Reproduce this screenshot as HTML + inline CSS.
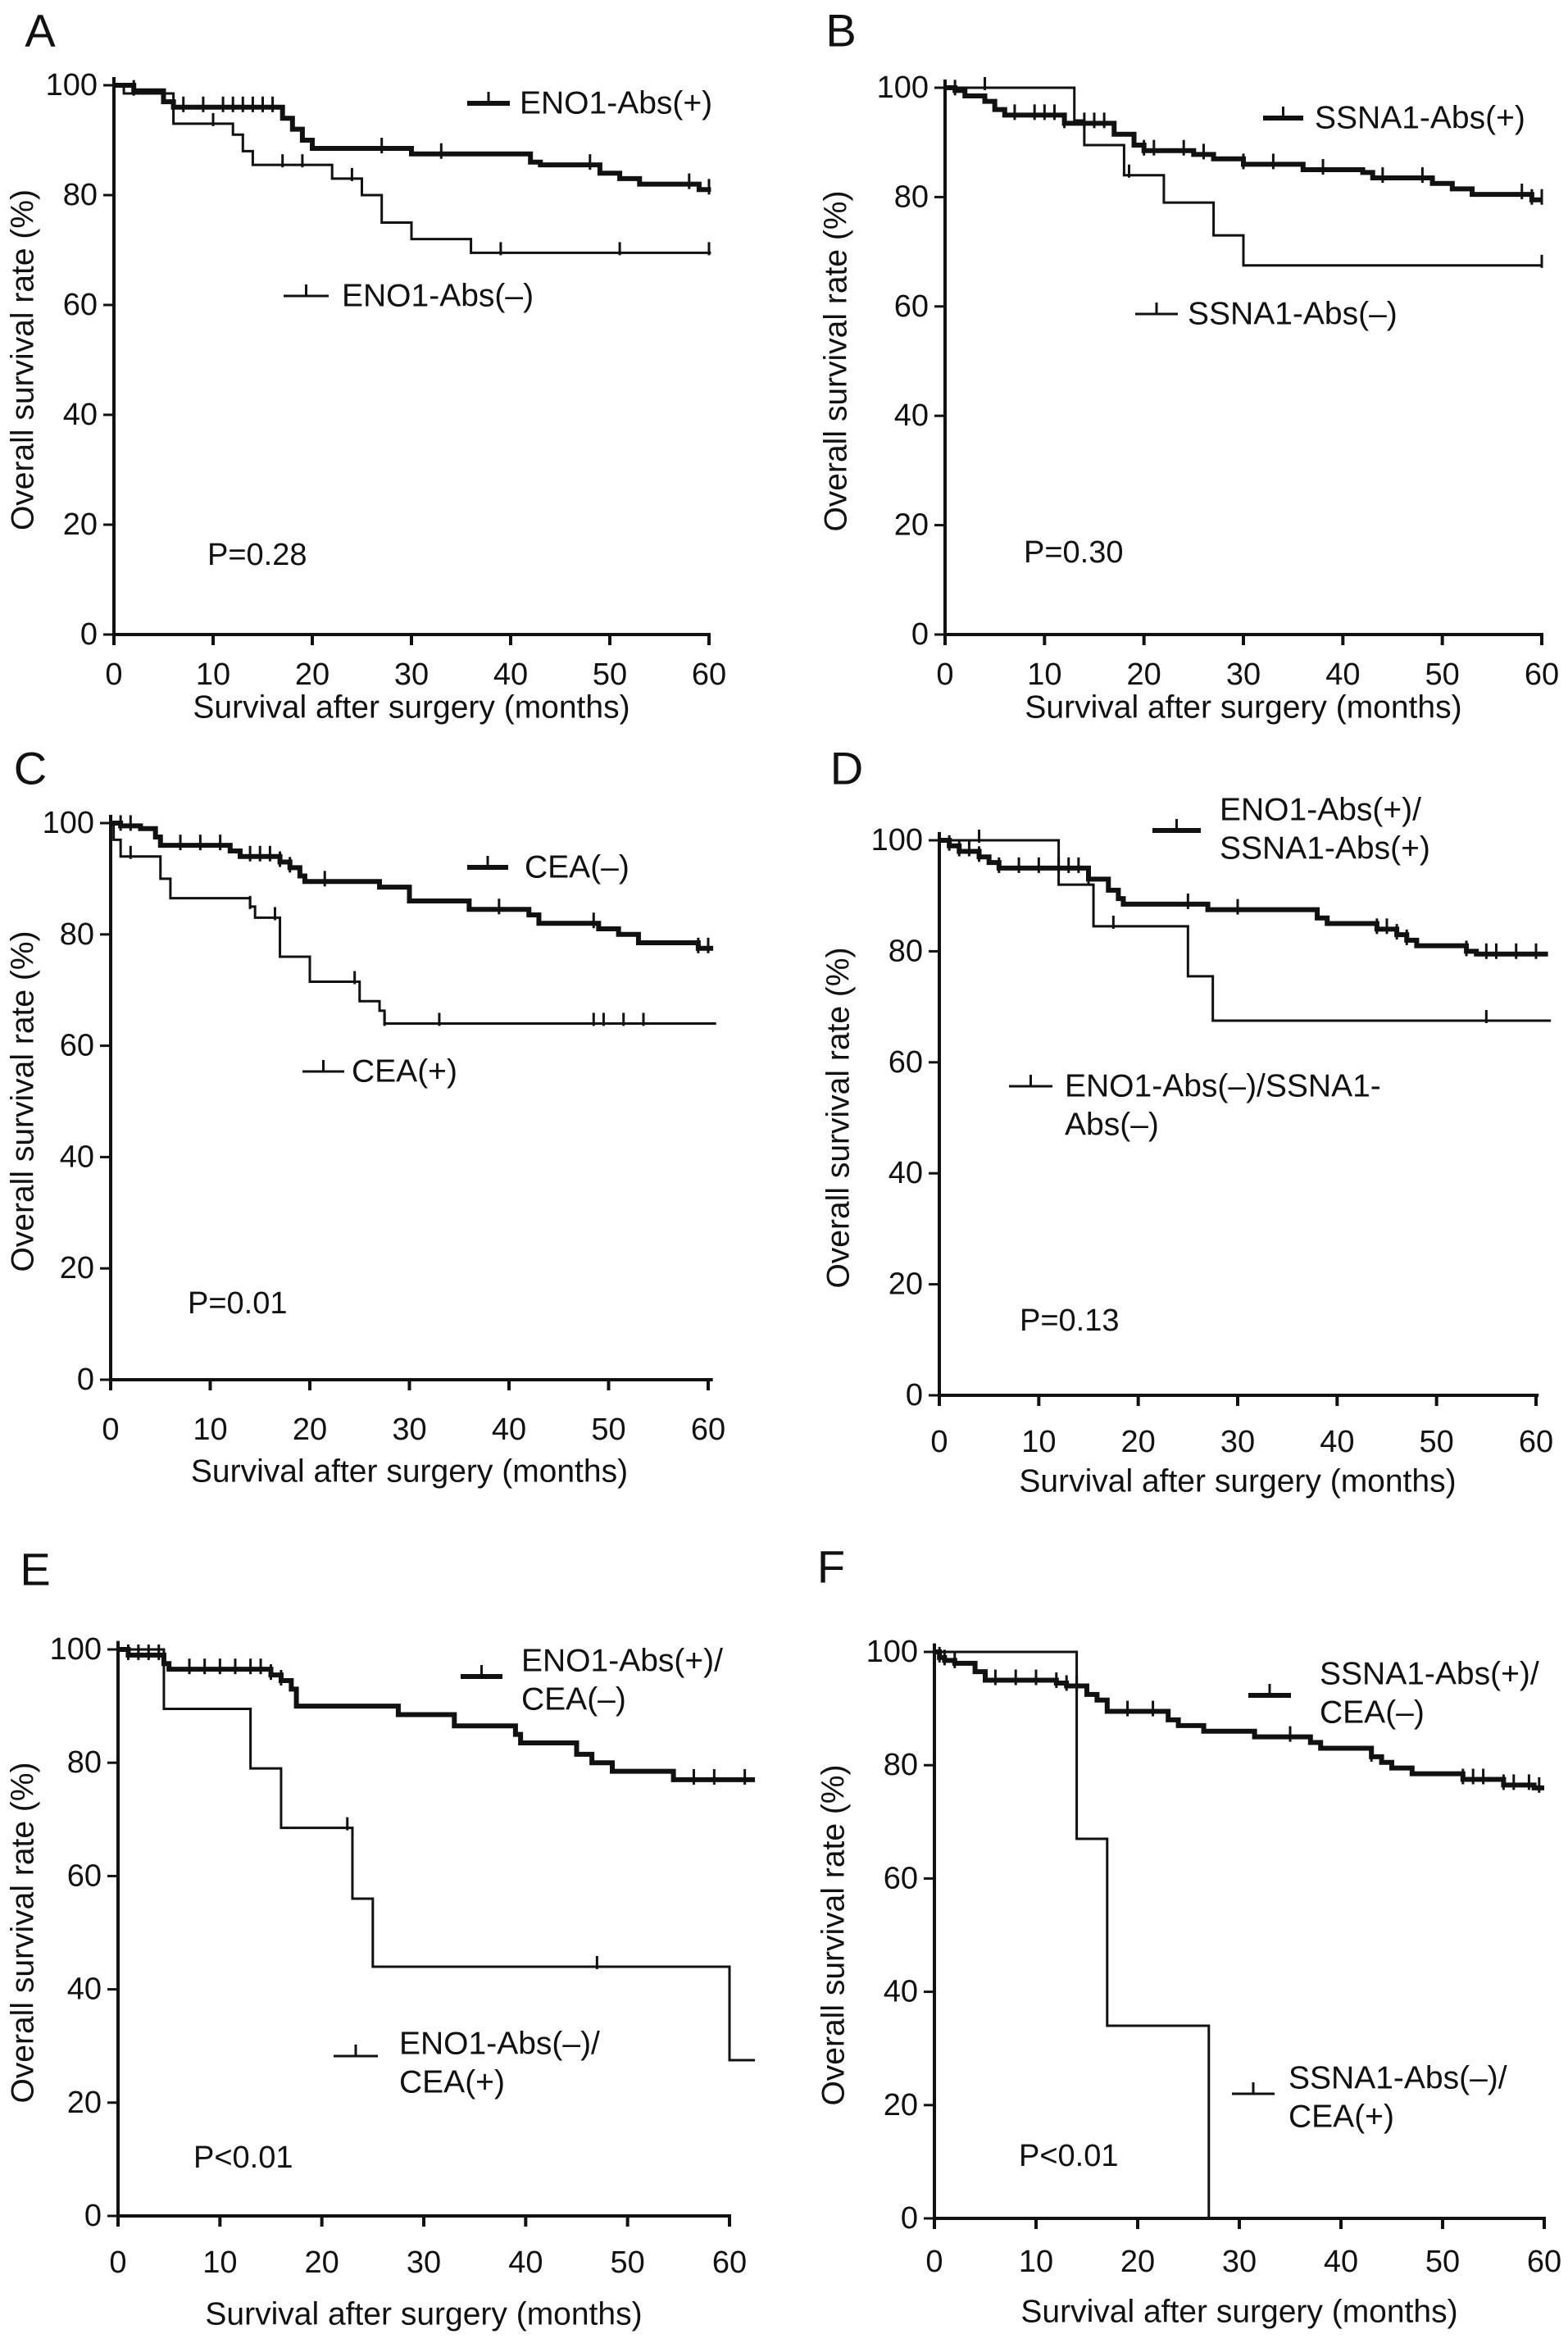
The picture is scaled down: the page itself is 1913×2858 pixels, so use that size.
<!DOCTYPE html>
<html><head><meta charset="utf-8">
<style>
html,body{margin:0;padding:0;background:#fff;}
svg{display:block;}
text{font-family:"Liberation Sans",Arial,sans-serif;fill:#111;}
</style></head>
<body>
<svg id="fig" width="1913" height="2858" viewBox="0 0 1913 2858" xmlns="http://www.w3.org/2000/svg"></svg>
<script>
// ---- Data (months, survival %) ----
const yTicks = [0,20,40,60,80,100];
const xTicks = [0,10,20,30,40,50,60];

// Panel A
const aPosT = [2,5,6,17,18,19,20,30,42,43,49,51,53,59];
const aPosS = [99,97,96,94,92,90,88.5,87.5,86,85.5,84,83,82,81];
const aPosC = [2,7,9,11,12,13,14,15,16,27,33,48,58,60];
const aNegT = [1,6,12,13,14,22,25,27,30,36];
const aNegS = [98.5,93,91,88,85.5,83,80,75,72,69.5];
const aNegC = [10,17,19,24,39,51,60];
// Panel B
const bPosT = [1,2,4,5,6,12,17,19,20,25,27,30,36,42,43,49,51,53,59];
const bPosS = [99.5,98.5,97.5,96,95,93.5,91.5,89.5,88.5,87.8,87,86,85,84.5,83.5,82.5,81.5,80.5,79.5];
const bPosC = [1,7,9,10,11,12,14,15,16,20,21,24,26,30,33,38,44,48,58,59,60];
const bNegT = [13,14,18,22,27,30];
const bNegS = [94,89.5,84,79,73,67.5];
const bNegC = [4,18.5,60];
// Panel C
const cNegT = [1,3,4.5,5,12,13,17,18,19,19.5,27,30,36,42,43,49,51,53,59];
const cNegS = [99.5,99,97.5,96,95,94,93,92,90.5,89.5,88.5,86,84.5,83.5,82,81,80,78.5,77.5];
const cNegC = [1,2,7,9,11,14,15,16,17,18,21.5,39,48.5,59,60];
const cPosT = [0.3,1,5,6,14,14.5,17,20,25,27,27.5];
const cPosS = [97,94,90,86.5,85,83,76,71.5,68,66.3,64];
const cPosC = [2,14,16.5,24.5,27.5,33,48.5,49.5,51.5,53.5];
// Panel D
const dPosT = [1,2,4,5,6,15,17,18,18.5,27,38,39,44,46,47,48,53,54];
const dPosS = [99,98,97,96,95,93,91,89.5,88.5,87.5,86,85,84,83,82,81,80,79.5];
const dPosC = [1,2,3,4,6,8,10,12,13,14,15,25,30,44,45,46,47,53,55,56,58,60];
const dNegT = [12,15.5,25,27.5];
const dNegS = [92,84.5,75.5,67.5];
const dNegC = [4,17.5,55];
// Panel E
const ePosT = [1,4.5,5,15,16,17,17.5,27.5,33,39,39.5,45,46.5,48.5,54.5];
const ePosS = [99,97.5,96.5,95.5,94.5,93,90,88.5,86.5,85,83.5,81.5,80,78.5,77];
const ePosC = [1,2,3,4,7,8.5,10,11.5,13,14,15,16,56.5,58.5,61.5];
const eNegT = [4.5,13,16,23,25,60];
const eNegS = [89.5,79,68.5,56,44,27.5];
const eNegC = [22.5,47];
// Panel F
const fPosT = [0.5,1,2,4,5,12,13,15,16,17,23,24,26.5,31.5,37,38,43,44,45,47,52,56,59];
const fPosS = [99,98.5,98,96.5,95,94.5,94,92.5,91.5,89.5,88,87,86,85,84,83,81.5,80.5,79.5,78.5,77.5,76.5,76];
const fPosC = [0.5,1,2,6,8,10,12,13,14,19,21.5,35,43,52,53,54,56,57,58.5,59.5];
const fNegT = [14,17,27];
const fNegS = [67,34,0];
const fNegC = [];

// ---- Layout ----
const NS = "http://www.w3.org/2000/svg";
const svg = document.getElementById('fig');
function el(tag, attrs, parent){const e=document.createElementNS(NS,tag);for(const k in attrs)e.setAttribute(k,attrs[k]);(parent||svg).appendChild(e);return e;}

const panels = [
 {id:'a',letter:'A',lx:49,ly:37,x0:139,x1:865,y0:774,y100:104,xEnd:60,ytx:28,tkOff:49,ttOff:89,pv:'P=0.28',px:253,py:677,
  series:[{T:aPosT,S:aPosS,C:aPosC,end:60.2,w:6,name:'eno1-pos'},{T:aNegT,S:aNegS,C:aNegC,end:60.2,w:3,name:'eno1-neg'}],
  legend:[{x1:570,x2:622,y:126,w:6,tx:634,lines:['ENO1-Abs(+)']},{x1:346,x2:401,y:361,w:3,tx:417,lines:['ENO1-Abs(\u2013)']}]},
 {id:'b',letter:'B',lx:1026,ly:37,x0:1153,x1:1881,y0:774,y100:107,xEnd:60,ytx:1020,tkOff:49,ttOff:89,pv:'P=0.30',px:1249,py:674,
  series:[{T:bPosT,S:bPosS,C:bPosC,end:60,w:6,name:'ssna1-pos'},{T:bNegT,S:bNegS,C:bNegC,end:60,w:3,name:'ssna1-neg'}],
  legend:[{x1:1541,x2:1590,y:144,w:6,tx:1604,lines:['SSNA1-Abs(+)']},{x1:1385,x2:1437,y:383,w:3,tx:1449,lines:['SSNA1-Abs(\u2013)']}]},
 {id:'c',letter:'C',lx:37,ly:937,x0:135,x1:864,y0:1683,y100:1004,xEnd:60.3,ytx:28,tkOff:61,ttOff:112,pv:'P=0.01',px:229,py:1590,
  series:[{T:cNegT,S:cNegS,C:cNegC,end:60.5,w:6,name:'cea-neg'},{T:cPosT,S:cPosS,C:cPosC,end:60.8,w:3,name:'cea-pos'}],
  legend:[{x1:570,x2:620,y:1058,w:6,tx:640,lines:['CEA(\u2013)']},{x1:369,x2:420,y:1307,w:3,tx:429,lines:['CEA(+)']}]},
 {id:'d',letter:'D',lx:1033,ly:937,x0:1146,x1:1874,y0:1702,y100:1025,xEnd:60.1,ytx:1023,tkOff:57,ttOff:105,pv:'P=0.13',px:1244,py:1611,
  series:[{T:dPosT,S:dPosS,C:dPosC,end:61.2,w:6,name:'eno1-ssna1-pos'},{T:dNegT,S:dNegS,C:dNegC,end:61.5,w:3,name:'eno1-ssna1-neg'}],
  legend:[{x1:1406,x2:1465,y:1013,w:6,tx:1488,lines:['ENO1-Abs(+)/','SSNA1-Abs(+)'],ly0:988},{x1:1231,x2:1284,y:1325,w:3,tx:1299,lines:['ENO1-Abs(\u2013)/SSNA1-','Abs(\u2013)'],ly0:1325}]},
 {id:'e',letter:'E',lx:43,ly:1914,x0:144,x1:890,y0:2703,y100:2012,xEnd:60,ytx:28,tkOff:57,ttOff:120,pv:'P<0.01',px:236,py:2632,
  series:[{T:ePosT,S:ePosS,C:ePosC,end:62.5,w:6,name:'eno1-pos-cea-neg'},{T:eNegT,S:eNegS,C:eNegC,end:62.5,w:3,name:'eno1-neg-cea-pos'}],
  legend:[{x1:562,x2:613,y:2045,w:6,tx:636,lines:['ENO1-Abs(+)/','CEA(\u2013)'],ly0:2026},{x1:407,x2:461,y:2508,w:3,tx:487,lines:['ENO1-Abs(\u2013)/','CEA(+)'],ly0:2493}]},
 {id:'f',letter:'F',lx:1014,ly:1911,x0:1140,x1:1884,y0:2706,y100:2015,xEnd:60,ytx:1017,tkOff:53,ttOff:114,pv:'P<0.01',px:1243,py:2630,
  series:[{T:fPosT,S:fPosS,C:fPosC,end:60,w:6,name:'ssna1-pos-cea-neg'},{T:fNegT,S:fNegS,C:fNegC,end:27,w:3,name:'ssna1-neg-cea-pos'}],
  legend:[{x1:1523,x2:1575,y:2068,w:6,tx:1610,lines:['SSNA1-Abs(+)/','CEA(\u2013)'],ly0:2042},{x1:1503,x2:1555,y:2554,w:3,tx:1572,lines:['SSNA1-Abs(\u2013)/','CEA(+)'],ly0:2535}]}
];

function survAt(T,S,t){let s=100;for(let i=0;i<T.length;i++){if(T[i]<=t)s=S[i];}return s;}

panels.forEach(p=>{
  const g = el('g',{});
  
  
  const X = t => p.x0 + (p.x1-p.x0)*t/60;
  const Y = v => p.y0 - (p.y0-p.y100)*v/100;

  const lt = el('text',{x:p.lx,y:p.ly,'font-size':56,'dominant-baseline':'central','text-anchor':'middle'},g);
  lt.textContent=p.letter;
  
  

  const ya = el('line',{x1:p.x0,y1:Y(101.5),x2:p.x0,y2:p.y0,stroke:'#111','stroke-width':4},g);
  
  
  const xa = el('line',{x1:p.x0-2,y1:p.y0,x2:X(p.xEnd)+2,y2:p.y0,stroke:'#111','stroke-width':4},g);
  
  

  yTicks.forEach(v=>{
    el('line',{x1:p.x0-13,y1:Y(v),x2:p.x0,y2:Y(v),stroke:'#111','stroke-width':3},g);
    const t = el('text',{x:p.x0-20,y:Y(v),'font-size':38,'text-anchor':'end','dominant-baseline':'central'},g);
    t.textContent=v;
    
    
  });
  xTicks.forEach(v=>{
    el('line',{x1:X(v),y1:p.y0,x2:X(v),y2:p.y0+13,stroke:'#111','stroke-width':4},g);
    const t = el('text',{x:X(v),y:p.y0+p.tkOff,'font-size':38,'text-anchor':'middle','dominant-baseline':'central'},g);
    t.textContent=v;
    
    
  });
  const xt = el('text',{x:(p.x0+p.x1)/2,y:p.y0+p.ttOff,'font-size':39,'text-anchor':'middle','dominant-baseline':'central'},g);
  xt.textContent='Survival after surgery (months)';
  
  
  const ycy=(p.y0+p.y100)/2;
  const yt = el('text',{x:p.ytx,y:ycy,'font-size':39,'text-anchor':'middle','dominant-baseline':'central',transform:`rotate(-90 ${p.ytx} ${ycy})`},g);
  yt.textContent='Overall survival rate (%)';
  
  

  p.series.forEach(s=>{
    let d=`M${X(0)},${Y(100)}`;
    for(let i=0;i<s.T.length;i++){d+=` H${X(s.T[i])} V${Y(s.S[i])}`;}
    d+=` H${X(s.end)}`;
    const path = el('path',{d:d,fill:'none',stroke:'#111','stroke-width':s.w,'stroke-linejoin':'miter'},g);
    
    
    s.C.forEach(c=>{
      const cy=Y(survAt(s.T,s.S,c));
      const m = el('line',{x1:X(c),y1:cy-13,x2:X(c),y2:cy+(s.w>4?6:3),stroke:'#111','stroke-width':3},g);
      
      
    });
  });

  p.legend.forEach((L,i)=>{
    const lg = el('g',{},g);
    
    
    el('line',{x1:L.x1,y1:L.y,x2:L.x2,y2:L.y,stroke:'#111','stroke-width':L.w},lg);
    const mx=(L.x1+L.x2)/2;
    el('line',{x1:mx,y1:L.y-14,x2:mx,y2:L.y,stroke:'#111','stroke-width':3},lg);
    const y0 = L.ly0!==undefined?L.ly0:L.y;
    L.lines.forEach((ln,j)=>{
      const t = el('text',{x:L.tx,y:y0+j*47,'font-size':39,'dominant-baseline':'central'},lg);
      t.textContent=ln;
    });
  });

  const pt = el('text',{x:p.px,y:p.py,'font-size':38,'dominant-baseline':'central'},g);
  pt.textContent=p.pv;
  
  
});
</script>
</body></html>
